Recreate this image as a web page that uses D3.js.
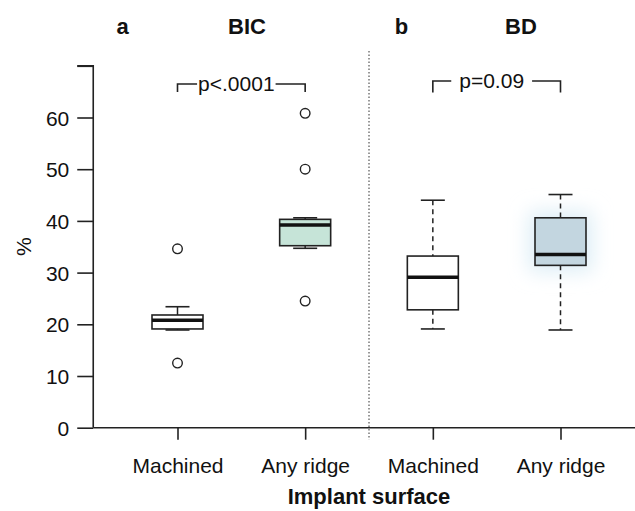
<!DOCTYPE html>
<html>
<head>
<meta charset="utf-8">
<script src="https://cdn.jsdelivr.net/npm/d3@7"></script>
<style>
  body { margin: 0; background: #fff; }
  svg text { font-family: Arial, "Liberation Sans", sans-serif; fill: #111; }
</style>
</head>
<body>
<div id="chart"></div>
<script>
// Groups (positions 1..4 on the x axis)
const groups = ['Machined', 'Any ridge', 'Machined', 'Any ridge'];
const panels = ['BIC', 'BIC', 'BD', 'BD'];
// Box statistics per group, in %
const whiskerLow = [18.9, 34.7, 19.1, 18.9];
const q1 = [19.1, 35.2, 22.8, 31.4];
const medians = [20.8, 39.2, 29.1, 33.5];
const q3 = [21.8, 40.3, 33.2, 40.6];
const whiskerHigh = [23.4, 40.6, 44.0, 45.1];
const outliers = [[34.6, 12.5], [60.8, 50.0, 24.5], [], []];
const boxFills = ['#ffffff', '#c6e4d8', '#ffffff', '#c3d6e0'];
const yTicks = [0, 10, 20, 30, 40, 50, 60, 70];
const yTickLabels = ['0', '10', '20', '30', '40', '50', '60', ''];
const pValues = ['p<.0001', 'p=0.09'];

const width = 635, height = 511;

const svg = d3.select('#chart').append('svg')
    .attr('width', width)
    .attr('height', height);

const x = d3.scaleLinear().domain([1, 4]).range([177.5, 560.5]);
const y = d3.scaleLinear().domain([0, 70]).range([427.7, 65.8]);

const defs = svg.append('defs');
defs.append('filter').attr('id', 'glow')
    .attr('x', '-60%').attr('y', '-60%').attr('width', '220%').attr('height', '220%')
    .append('feGaussianBlur').attr('stdDeviation', 10);

// Y axis
const yAxis = svg.append('g')
    .attr('transform', `translate(${x(0.34)},0)`)
    .call(d3.axisLeft(y).tickValues(yTicks).tickFormat((d, i) => yTickLabels[i]).tickSize(16).tickPadding(8));
yAxis.select('.domain').attr('d', `M-16,${y(70)}H0V${y(0)}`);

// X axis
const xAxis = svg.append('g')
    .attr('transform', `translate(0,${y(0)})`)
    .call(d3.axisBottom(x).tickValues([1, 2, 3, 4]).tickFormat((d, i) => groups[i]).tickSize(12));
xAxis.select('.domain').attr('d', `M${x(0.34)},0H${width}`);

svg.selectAll('.domain, .tick line').attr('stroke', '#222').attr('stroke-width', 1.6);
svg.selectAll('.tick text').attr('font-size', 21).attr('fill', '#111');
yAxis.selectAll('.tick text').attr('dy', '0.36em');
xAxis.selectAll('.tick text').attr('y', 45.6).attr('dy', 0);

// Panel separator
svg.append('line')
    .attr('x1', x(2.5)).attr('x2', x(2.5))
    .attr('y1', 51).attr('y2', y(0) + 12)
    .attr('stroke', '#333').attr('stroke-width', 1)
    .attr('stroke-dasharray', '1.5,2');

// Boxes
const boxW = 51, capW = 20;
groups.forEach((g, i) => {
    const cx = x(i + 1);
    const dashed = panels[i] === 'BD' ? '5,4' : null;
    const box = svg.append('g').attr('class', 'box');

    if (i === 3) {
        box.append('rect')
            .attr('x', cx - boxW / 2 - 6).attr('y', y(q3[i]) - 6)
            .attr('width', boxW + 12).attr('height', y(q1[i]) - y(q3[i]) + 12)
            .attr('fill', '#dcedf6').attr('filter', 'url(#glow)');
    }

    // whiskers
    box.append('line')
        .attr('x1', cx).attr('x2', cx)
        .attr('y1', y(whiskerHigh[i])).attr('y2', y(q3[i]))
        .attr('stroke', '#222').attr('stroke-width', 1.5).attr('stroke-dasharray', dashed);
    box.append('line')
        .attr('x1', cx).attr('x2', cx)
        .attr('y1', y(q1[i])).attr('y2', y(whiskerLow[i]))
        .attr('stroke', '#222').attr('stroke-width', 1.5).attr('stroke-dasharray', dashed);
    [whiskerHigh[i], whiskerLow[i]].forEach(v => {
        box.append('line')
            .attr('x1', cx - capW / 2 - 2).attr('x2', cx + capW / 2 + 2)
            .attr('y1', y(v)).attr('y2', y(v))
            .attr('stroke', '#222').attr('stroke-width', 1.6);
    });

    box.append('rect')
        .attr('x', cx - boxW / 2).attr('y', y(q3[i]))
        .attr('width', boxW).attr('height', y(q1[i]) - y(q3[i]))
        .attr('fill', boxFills[i])
        .attr('stroke', '#222').attr('stroke-width', 1.6);
    box.append('line')
        .attr('x1', cx - boxW / 2).attr('x2', cx + boxW / 2)
        .attr('y1', y(medians[i])).attr('y2', y(medians[i]))
        .attr('stroke', '#111').attr('stroke-width', 3.5);

    box.selectAll('circle')
        .data(outliers[i])
        .enter()
        .append('circle')
        .attr('cx', cx).attr('cy', d => y(d))
        .attr('r', 4.8)
        .attr('fill', 'none')
        .attr('stroke', '#222').attr('stroke-width', 1.4);
});

// Significance brackets: the text sits in a gap of the horizontal line
const brackets = [
    {a: 1, b: 2, yTop: 84, yBot: 92, pad: 1},
    {a: 3, b: 4, yTop: 81, yBot: 92.5, pad: 8}
];
brackets.forEach((br, i) => {
    const x1 = x(br.a), x2 = x(br.b);
    const label = svg.append('text')
        .attr('x', (x1 + x2) / 2 - 5).attr('y', br.yTop + 7)
        .attr('text-anchor', 'middle')
        .attr('font-size', 21)
        .text(pValues[i]);
    const bb = label.node().getBBox();
    svg.append('path')
        .attr('d', `M${x1},${br.yBot}V${br.yTop}H${bb.x - br.pad}`)
        .attr('fill', 'none').attr('stroke', '#222').attr('stroke-width', 1.6);
    svg.append('path')
        .attr('d', `M${bb.x + bb.width + br.pad},${br.yTop}H${x2}V${br.yBot}`)
        .attr('fill', 'none').attr('stroke', '#222').attr('stroke-width', 1.6);
});

// Panel titles
const titles = [
    {t: 'a', x: 122.5}, {t: 'BIC', x: 247},
    {t: 'b', x: 401.5}, {t: 'BD', x: 521}
];
svg.selectAll('.panel-title')
    .data(titles)
    .enter()
    .append('text')
    .attr('class', 'panel-title')
    .attr('x', d => d.x).attr('y', 33.5)
    .attr('text-anchor', 'middle')
    .attr('font-size', 22)
    .attr('font-weight', 'bold')
    .text(d => d.t);

// Axis labels
svg.append('text')
    .attr('transform', `translate(31,${y(35)}) rotate(-90)`)
    .attr('text-anchor', 'middle')
    .attr('font-size', 21)
    .text('%');

svg.append('text')
    .attr('x', x(2.5)).attr('y', 504)
    .attr('text-anchor', 'middle')
    .attr('font-size', 22)
    .attr('font-weight', 'bold')
    .text('Implant surface');
</script>
</body>
</html>
